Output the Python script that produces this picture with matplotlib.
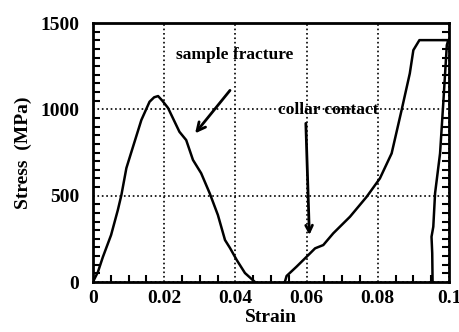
import matplotlib
matplotlib.use("Agg")
import matplotlib.pyplot as plt
from matplotlib.ticker import MultipleLocator

# sample loading curve (strain, stress in MPa)
strain_1 = [0.0, 0.0014, 0.0028, 0.0051, 0.0070, 0.0080, 0.0094, 0.0108, 0.0136,
            0.0159, 0.0172, 0.0183, 0.0195, 0.0211, 0.0243, 0.0262, 0.0281, 0.0304,
            0.0328, 0.0351, 0.0371, 0.0385, 0.0404, 0.0427, 0.0455]
stress_1 = [0, 58, 145, 272, 417, 504, 660, 753, 938,
            1044, 1070, 1077, 1050, 1008, 870, 822, 707, 630,
            514, 388, 243, 197, 127, 52, 0]

# collar loading curve
strain_2 = [0.0539, 0.0544, 0.0572, 0.0605, 0.0624, 0.0647, 0.0675, 0.0722, 0.0769,
            0.0806, 0.0839, 0.0867, 0.0890, 0.0900, 0.0917, 0.0998, 0.0994, 0.0984,
            0.0975, 0.0961, 0.0956, 0.0951, 0.0953, 0.0954]
stress_2 = [0, 35, 89, 156, 195, 214, 282, 378, 494,
            600, 745, 996, 1208, 1343, 1401, 1401, 1372, 1035,
            745, 514, 320, 262, 167, 0]

x_ticks = [0, 0.02, 0.04, 0.06, 0.08, 0.1]
x_tick_labels = ["0", "0.02", "0.04", "0.06", "0.08", "0.1"]
y_ticks = [0, 500, 1000, 1500]
y_tick_labels = ["0", "500", "1000", "1500"]

plt.rcParams['font.family'] = ['Liberation Serif', 'DejaVu Serif']
plt.rcParams['font.weight'] = 'bold'

fig = plt.figure(figsize=(4.6, 3.32), dpi=100)
ax = fig.add_axes([0.202, 0.1506, 0.774, 0.780])

ax.plot(strain_1, stress_1, color='black', linewidth=1.8)
ax.plot(strain_2, stress_2, color='black', linewidth=1.8)

ax.set_xlim(0, 0.1)
ax.set_ylim(0, 1500)
ax.set_xticks(x_ticks)
ax.set_xticklabels(x_tick_labels, fontsize=14, fontweight='bold')
ax.set_yticks(y_ticks)
ax.set_yticklabels(y_tick_labels, fontsize=14, fontweight='bold')
ax.xaxis.set_minor_locator(MultipleLocator(0.005))
ax.yaxis.set_minor_locator(MultipleLocator(50))
ax.tick_params(which='both', direction='in', left=True, right=True, bottom=True,
               top=False, width=1.5)
ax.tick_params(which='major', length=0)
ax.tick_params(axis='y', which='major', pad=10)
ax.tick_params(axis='x', which='major', pad=6)
ax.tick_params(which='minor', length=5)

ax.grid(which='major', color='black', linestyle=':', linewidth=1.2)
for s in ax.spines.values():
    s.set_linewidth(2)

ax.set_xlabel("Strain", fontsize=14, fontweight='bold', labelpad=1)
ax.set_ylabel("Stress  (MPa)", fontsize=14, fontweight='bold', labelpad=6)

ax.text(0.0399, 1315, "sample fracture", ha='center', va='center',
        fontsize=12.5, fontweight='bold')
ax.annotate("", xy=(0.0287, 861), xytext=(0.0385, 1110),
            arrowprops=dict(arrowstyle='->', color='black', lw=2,
                            shrinkA=0, shrinkB=0, mutation_scale=15))
ax.text(0.066, 995, "collar contact", ha='center', va='center',
        fontsize=12.5, fontweight='bold')
ax.annotate("", xy=(0.0608, 272), xytext=(0.0598, 919),
            arrowprops=dict(arrowstyle='->', color='black', lw=2,
                            shrinkA=0, shrinkB=0, mutation_scale=12))

fig.savefig("out.png", dpi=100)
